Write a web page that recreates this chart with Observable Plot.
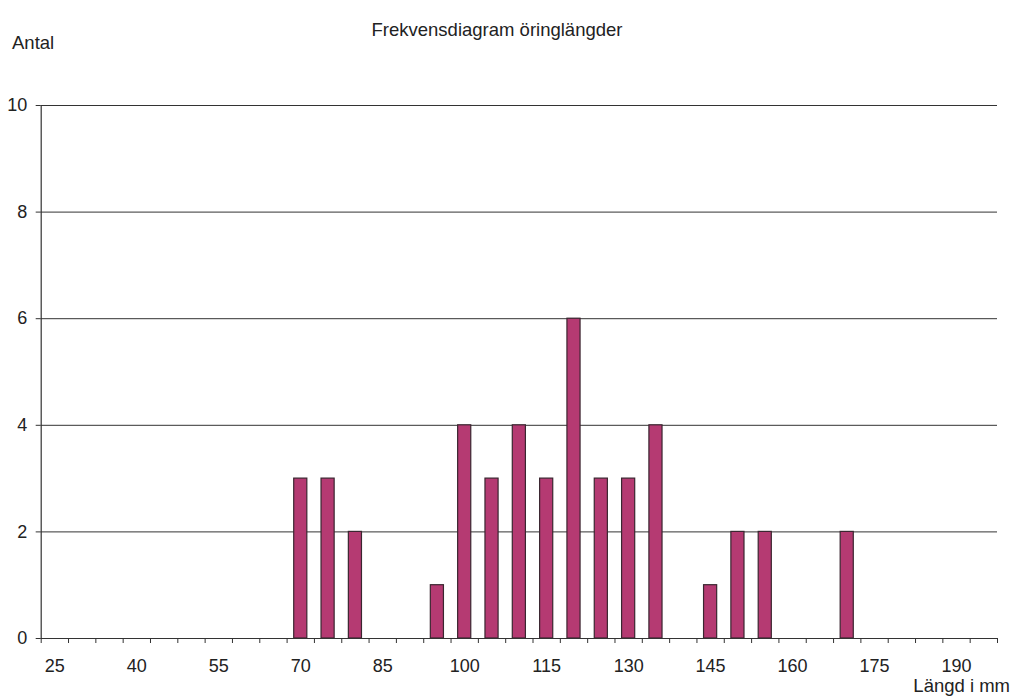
<!DOCTYPE html>
<html>
<head>
<meta charset="utf-8">
<script src="https://cdn.jsdelivr.net/npm/d3@7"></script>
<script src="https://cdn.jsdelivr.net/npm/@observablehq/plot@0.6"></script>
<style>
  html, body { margin: 0; padding: 0; background: #fff; }
  #wrap { position: relative; width: 1018px; height: 698px; font-family: "Liberation Sans", Arial, sans-serif; color: #222; }
  #wrap svg { position: absolute; left: 0; top: 0; }
  .lbl { position: absolute; font-size: 18.5px; line-height: 21px; white-space: nowrap; }
</style>
</head>
<body>
<div id="wrap">
  <div class="lbl" id="title" style="left:0; width:994px; text-align:center; top:19px;">Frekvensdiagram öringlängder</div>
  <div class="lbl" id="ylab" style="left:12px; top:32px;">Antal</div>
  <div class="lbl" id="xlab" style="right:8px; top:678px; line-height:16px;">Längd i mm</div>
</div>
<script>
// Length classes (mm) and counts
const lengths = d3.range(25, 200, 5);
const counts = {70: 3, 75: 3, 80: 2, 95: 1, 100: 4, 105: 3, 110: 4, 115: 3, 120: 6, 125: 3, 130: 3, 135: 4, 145: 1, 150: 2, 155: 2, 170: 2};
const xTickLabels = [25, 40, 55, 70, 85, 100, 115, 130, 145, 160, 175, 190];
const yTicks = [0, 2, 4, 6, 8, 10];
const gridValues = [2, 4, 6, 8, 10];

const data = lengths.map(l => ({length: l, count: counts[l] ?? 0})).filter(d => d.count > 0);

const W = 1018, H = 698;
const mL = 40.7, mR = 21, mT = 105, mB = 60;
const step = (W - mL - mR) / lengths.length;

const chart = Plot.plot({
  width: W,
  height: H,
  marginLeft: mL,
  marginRight: mR,
  marginTop: mT,
  marginBottom: mB,
  style: {fontFamily: '"Liberation Sans", Arial, sans-serif', fontSize: "18px", color: "#222", background: "transparent"},
  x: {type: "band", domain: lengths, paddingInner: 0.52, paddingOuter: 0.26, round: false, axis: null},
  y: {domain: [0, 10], axis: null},
  marks: [
    Plot.ruleY(gridValues, {stroke: "#333", strokeWidth: 1}),
    Plot.barY(data, {x: "length", y: "count", fill: "#B53A72", stroke: "#3a2630", strokeWidth: 1.2}),
    Plot.ruleY([0], {stroke: "#333", strokeWidth: 1.2}),
    Plot.frame({anchor: "left", stroke: "#333", strokeWidth: 1.2}),
    // boundary ticks between categories
    Plot.axisX(lengths, {tickSize: 5, text: null, label: null, dx: -step / 2, stroke: "#333"}),
    Plot.axisX([lengths[lengths.length - 1]], {tickSize: 5, text: null, label: null, dx: step / 2, stroke: "#333"}),
    // category labels
    Plot.axisX(xTickLabels, {tickSize: 0, tickPadding: 21, label: null, fill: "#222", fontSize: 18}),
    Plot.axisY(yTicks, {tickSize: 5, tickPadding: 9, label: null, tickFormat: "d", stroke: "#333", fill: "#222", fontSize: 18})
  ]
});
document.getElementById("wrap").prepend(chart);
</script>
</body>
</html>
